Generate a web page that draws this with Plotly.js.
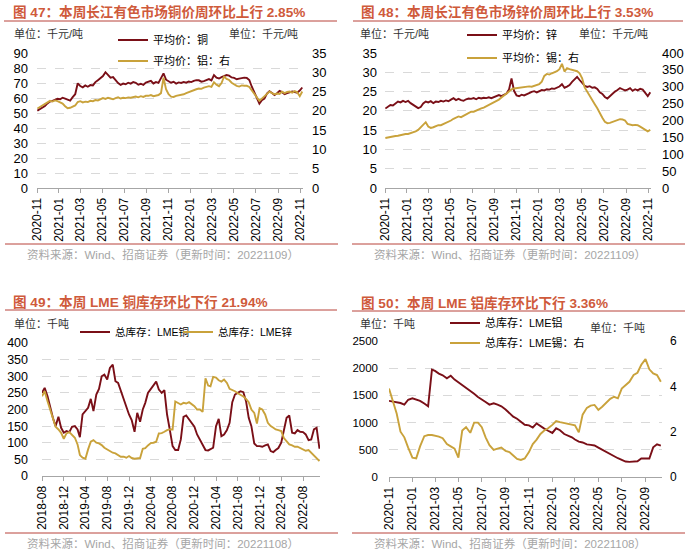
<!DOCTYPE html>
<html><head><meta charset="utf-8">
<script src="https://cdn.plot.ly/plotly-3.0.1.min.js"></script>
<style>html,body{margin:0;padding:0;background:#fff;}#chart{width:700px;height:553px;}</style>
</head><body><div id="chart"></div>
<script>
// ---------- Panel 47 / 48 : weekly (Mondays from 2020-11-02) ----------
const cuPrice = [
 51.5,52.6,53.9,54.6,56.4, 57.6,58.1,58.9,59.5, 59.2,60.2,59.6,58.7, 58.3,60.6,62.5,69.8,
 68.0,67.1,68.4,67.5,68.6, 68.4,70.6,71.9,73.3, 74.6,77.2,75.0,73.6,73.9, 72.0,69.9,68.8,69.6,
 69.2,70.2,69.6,70.7, 70.1,68.9,69.5,68.7,70.3, 70.8,71.5,69.7,70.6, 70.1,72.8,76.4,72.2,
 70.9,70.2,70.8,69.6,70.4, 70.0,70.7,70.2,71.0, 70.6,71.4,71.9,71.8,70.9, 71.3,72.2,72.6,71.7,
 75.3,73.5,73.0,73.9, 74.4,75.3,74.9,73.7, 73.4,72.5,72.9,73.3,73.6, 73.4,72.0,67.5,64.0,
 60.1,56.3,58.6,59.6, 62.9,64.5,63.4,62.0,63.2, 64.8,63.9,62.5,63.2, 63.6,64.3,64.0,63.5,65.0, 67.0];
const alPrice = [
 20.6,21.0,21.5,21.8,22.3, 22.6,22.4,22.7,22.5, 22.2,21.9,21.2,20.7, 20.8,21.2,21.4,22.3,
 22.5,22.2,22.4,22.3,22.6, 22.5,22.8,22.7,23.0, 23.3,23.1,23.4,23.2,23.0, 23.3,23.5,23.2,23.4,
 23.3,23.5,23.4,23.6, 23.7,23.5,23.8,23.6,23.9, 23.9,24.1,23.8,24.0, 24.1,24.6,28.6,25.6,
 24.3,23.7,23.6,23.9,24.0, 24.1,24.3,24.6,24.9, 25.0,25.3,25.6,25.8,25.7, 26.0,26.2,26.4,26.2,
 27.4,26.8,26.4,27.2, 28.9,28.3,28.0,27.3, 26.8,26.5,26.3,26.6,26.5, 26.5,26.2,25.2,24.5,
 23.5,22.6,23.2,23.6, 24.2,25.0,24.6,24.3,24.5, 24.4,25.0,24.6,24.9, 25.0,24.7,25.1,24.8,23.8, 25.0];
const znPrice = [
 20.6,21.0,21.5,21.4,21.9, 22.4,22.2,22.6,22.3, 22.6,22.0,21.5,21.2, 20.7,21.0,21.9,22.4,
 22.2,22.5,22.0,22.4,22.3, 22.6,22.4,22.7,22.5, 22.9,23.3,22.8,23.1,22.8, 22.6,23.0,23.2,23.1,
 23.3,23.0,23.4,23.2, 23.4,23.3,23.5,23.3,23.6, 23.9,24.1,23.8,24.2, 24.5,25.5,28.4,25.2,
 24.0,23.8,24.2,24.0,24.4, 24.6,24.9,25.1,24.8, 25.2,25.4,25.3,25.6,25.5, 25.8,25.7,26.0,26.3,
 26.9,26.0,26.3,26.7, 27.5,28.2,28.8,28.0, 27.2,26.5,26.2,26.4,26.0, 26.1,25.7,24.8,24.4,
 23.6,23.2,23.8,24.6, 25.0,25.4,25.9,25.6,25.3, 25.5,25.9,25.2,25.6, 25.3,25.7,25.5,24.6,23.8, 24.8];
const snPrice = [
 148,150,151,153,154, 155,157,158,160, 160,162,166,168, 172,180,188,195,
 182,178,180,184,186, 186,189,193,196, 200,205,209,212,210, 214,218,222,226,
 226,230,234,236, 238,242,246,250,253, 258,262,268,274, 280,286,292,295,
 296,298,300,299,300, 301,300,302,305, 308,315,332,338,336, 340,343,346,352,
 368,345,355,352, 350,348,346,340, 325,298,285,270,258, 248,236,220,208,
 196,192,193,196, 198,202,204,203,200, 190,187,186,187, 186,182,178,174,168, 172];

// ---------- Panel 49 : semi-monthly (1st & 16th from 2018-08) ----------
const lmeCu = [
 250,265, 240,205, 175,150, 178,145, 130,135, 132,148, 150,140, 117,185, 195,205, 232,195,
 245,262, 300,305, 290,325, 335,285, 280,255, 230,205, 185,168, 133,190, 163,200, 220,250,
 262,270, 284,260, 250,258, 185,140, 90,78, 78,110, 178,182, 170,160, 148,125, 108,95,
 78,77, 80,85, 150,172, 120,125, 138,160, 222,245, 250,255, 252,225, 175,150, 98,90,
 90,88, 92,95, 75,72, 78,84, 100,140, 175,182, 130,128, 138,133, 132,125, 108,110, 140,145, 82];
const lmeZn = [
 240,255, 225,198, 170,148, 140,130, 112,128, 132,123, 115,95, 63,55, 52,80, 103,108,
 100,98, 93,85, 80,73, 70,68, 62,58, 58,55, 60,54, 52,52, 54,82, 84,92,
 99,100, 103,128, 129,133, 138,140, 140,224, 218,215, 220,218, 222,215, 210,200, 200,193,
 294,272, 270,298, 296,288, 284,290, 280,262, 259,255, 249,245, 239,232, 222,200, 190,158,
 204,200, 185,160, 150,145, 140,138, 135,114, 105,95, 92,88, 88,84, 78,76, 78,70, 60,52, 45];

// ---------- Panel 50 : 1st / 11th / 21st from 2020-11 ----------
const lmeAl = [
 1400,1385,1375, 1360,1330,1420, 1446,1430,1400, 1350,1300,1975, 1950,1900,1870, 1815,1860,1790,
 1740,1700,1650, 1590,1530,1470, 1430,1380,1330, 1355,1330,1300, 1240,1170,1110, 1070,1010,960,
 950,910,985, 930,890,850, 810,895,860, 790,760,730, 690,650,635, 600,590,580,
 540,500,460, 420,380,345, 315,285,278, 280,290,340, 345,340,545, 600,575];
const lmeSn = [
 3.9,3.4,2.8, 2.0,1.75,1.3, 0.85,0.82,1.35, 1.8,1.85,1.85, 1.82,1.78,1.71, 1.45,1.35,1.25,
 0.85,2.05,2.2, 1.95,2.4,2.4, 2.2,1.75,1.4, 1.2,1.25,1.3, 1.15,1.1,0.95, 0.8,0.75,0.82,
 1.1,1.45,1.65, 1.9,2.05,2.15, 2.3,2.47,2.42, 2.38,2.32,2.3, 2.28,1.97,2.75, 3.05,3.15,3.18,
 2.96,3.1,3.25, 3.45,3.54,3.47, 3.9,4.05,4.2, 4.5,4.6,4.95, 5.2,4.75,4.57, 4.5,4.2];

// ---------- date helpers (x categories) ----------
function fmt(d){return d.toISOString().slice(0,10);}
function weekly(start,n){const out=[];let t=Date.parse(start+'T00:00:00Z');for(let i=0;i<n;i++){out.push(fmt(new Date(t+i*7*86400000)));}return out;}
function semiMonthly(y,m,n){const out=[];for(let i=0;i<n;i++){const mm=m-1+Math.floor(i/2);const d=new Date(Date.UTC(y,mm,i%2?16:1));out.push(fmt(d));}return out;}
function thirds(y,m,n){const out=[];const days=[1,11,21];for(let i=0;i<n;i++){const mm=m-1+Math.floor(i/3);out.push(fmt(new Date(Date.UTC(y,mm,days[i%3]))));}return out;}

const weekDates = weekly('2020-11-02', cuPrice.length);
const semiDates = semiMonthly(2018, 8, lmeCu.length);
const thirdDates = thirds(2020, 11, lmeAl.length);

const RED='#7a0f17', GOLD='#c9a23b';
const W=700,H=553;
const px=x=>x/W, py=y=>1-y/H;
const CJK='"Liberation Sans", Arial, "Noto Sans CJK SC", sans-serif';

function tr(x,y,xa,ya,name,color,lg){
  return {type:'scatter',mode:'lines',x:x,y:y,xaxis:xa,yaxis:ya,name:name,legend:lg,
    line:{color:color,width:1.9},hoverinfo:'skip'};
}
const data=[
 tr(weekDates,cuPrice,'x','y','平均价：铜',RED,'legend'),
 tr(weekDates,alPrice,'x','y2','平均价：铝：右',GOLD,'legend2'),
 tr(weekDates,znPrice,'x2','y3','平均价：锌',RED,'legend3'),
 tr(weekDates,snPrice,'x2','y4','平均价：锡：右',GOLD,'legend4'),
 tr(semiDates,lmeCu,'x3','y5','总库存：LME铜',RED,'legend5'),
 tr(semiDates,lmeZn,'x3','y5','总库存：LME锌',GOLD,'legend6'),
 tr(thirdDates,lmeAl,'x4','y6','总库存：LME铝',RED,'legend7'),
 tr(thirdDates,lmeSn,'x4','y7','总库存：LME锡：右',GOLD,'legend8')
];

function xax(d0,d1,range,tick0,dtick,anchor){
  return {domain:[px(d0),px(d1)],anchor:anchor,type:'date',range:range,tick0:tick0,dtick:dtick,
    tickformat:'%Y-%m',tickangle:-90,showgrid:false,zeroline:false,showline:true,linecolor:'#a6a6a6',
    linewidth:1,ticks:'outside',ticklen:4,tickcolor:'#a6a6a6',tickfont:{family:CJK,size:12,color:'#000'},fixedrange:true};
}
function yax(t,b,range,dtick,anchor,fs,standoff){
  return {domain:[py(b),py(t)],anchor:anchor,range:range,dtick:dtick,showgrid:true,gridcolor:'#d9d9d9',
    griddash:'dash',gridwidth:1,zeroline:false,showline:false,ticks:'',ticklabelstandoff:standoff,
    tickfont:{family:CJK,size:fs,color:'#000'},fixedrange:true};
}
function yr(over,anchor,range,dtick,fs,standoff){
  return {overlaying:over,anchor:anchor,side:'right',range:range,dtick:dtick,showgrid:false,zeroline:false,
    showline:false,ticks:'',ticklabelstandoff:standoff,tickfont:{family:CJK,size:fs,color:'#000'},fixedrange:true};
}
function lg(x,y,fs){return {x:px(x-5),y:py(y),xanchor:'left',yanchor:'middle',bgcolor:'rgba(0,0,0,0)',
  borderwidth:0,font:{family:CJK,size:fs||11,color:'#000'},orientation:'v'};}

const titleColor='#cf5a3b', ruleColor='#b8433a', srcColor='#a6a6a6';
function ann(x,y,text,opt){return Object.assign({xref:'paper',yref:'paper',x:px(x),y:py(y),text:text,showarrow:false,
  xanchor:'left',yanchor:'middle',font:{family:CJK,size:11,color:'#333'}},opt||{});}
function rule(x0,x1,y,color){return {type:'line',xref:'paper',yref:'paper',x0:px(x0),x1:px(x1),y0:py(y),y1:py(y),
  line:{color:color||ruleColor,width:1}};}

const src1='资料来源：Wind、招商证券（更新时间：20221109）';
const src2='资料来源：Wind、招商证券（更新时间：20221108）';
const tf={family:CJK,size:13.6,color:titleColor};
const sf={family:CJK,size:11.5,color:srcColor};

const layout={
  width:W,height:H,margin:{l:0,r:0,t:0,b:0},paper_bgcolor:'#fff',plot_bgcolor:'rgba(0,0,0,0)',
  showlegend:true,
  xaxis: xax(37,303,['2020-11-01','2022-11-09'],'2020-11-01','M2','y'),
  yaxis: yax(53,188,[0,90],10,'x',13,8),
  yaxis2: yr('y','x',[0,35],5,13,8),
  xaxis2: xax(385,651,['2020-11-01','2022-11-09'],'2020-11-01','M2','y3'),
  yaxis3: yax(53,188,[0,35],5,'x2',13,7),
  yaxis4: yr('y3','x2',[0,400],50,13,10),
  xaxis3: xax(42,320,['2018-08-01','2022-11-04'],'2018-08-01','M4','y5'),
  yaxis5: yax(343,476,[0,400],50,'x3',12.5,13),
  xaxis4: xax(389,662,['2020-11-01','2022-10-14'],'2020-11-01','M2','y6'),
  yaxis6: yax(341,477,[0,2500],500,'x4',11.5,10),
  yaxis7: yr('y6','x4',[0,6],2,12,7),
  legend: lg(118,40), legend2: lg(118,61), legend3: lg(467,35), legend4: lg(467,58),
  legend5: lg(80,332,10.5), legend6: lg(183,332,10.5), legend7: lg(450,323), legend8: lg(450,343),
  annotations:[
    ann(11,12,'<b>图 47：本周长江有色市场铜价周环比上行 2.85%</b>',{font:tf}),
    ann(359,12,'<b>图 48：本周长江有色市场锌价周环比上行 3.53%</b>',{font:tf}),
    ann(11,302,'<b>图 49：本周 LME 铜库存环比下行 21.94%</b>',{font:tf}),
    ann(359,303,'<b>图 50：本周 LME 铝库存环比下行 3.36%</b>',{font:tf}),
    ann(12,33,'单位：千元/吨'), ann(300,33,'单位：千元/吨',{xanchor:'right'}),
    ann(358,33,'单位：千元/吨'), ann(650,33,'单位：千元/吨',{xanchor:'right'}),
    ann(12,323,'单位：千吨'),
    ann(358,323,'单位：千吨'), ann(588,327,'单位：千吨'),
    ann(25,254,src1,{font:sf}), ann(372,254,src1,{font:sf}),
    ann(25,543,src2,{font:sf}), ann(372,543,src2,{font:sf})
  ],
  shapes:[
    rule(4,337,21), rule(353,683,21),
    rule(5,338,244), rule(352,685,244),
    rule(5,337,310), rule(352,685,311),
    rule(5,338,533), rule(352,685,533)
  ]
};
Plotly.newPlot('chart',data,layout,{staticPlot:true,displayModeBar:false});
</script></body></html>
